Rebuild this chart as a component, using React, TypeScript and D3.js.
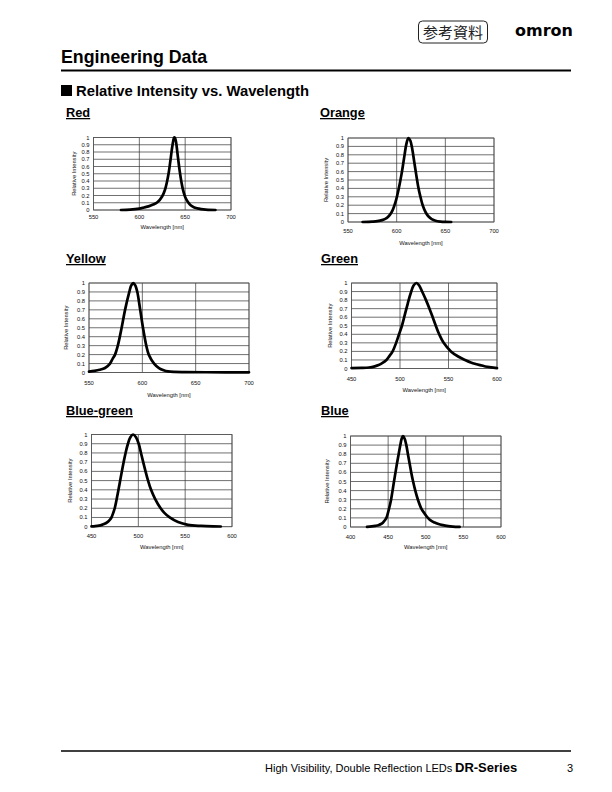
import React from "react";
import * as d3 from "d3";

// ---------- DATA ----------
const yTicks = [0, 0.1, 0.2, 0.3, 0.4, 0.5, 0.6, 0.7, 0.8, 0.9, 1];
const yTickLabels = ["0", "0.1", "0.2", "0.3", "0.4", "0.5", "0.6", "0.7", "0.8", "0.9", "1"];
const xTicks550 = [550, 600, 650, 700];
const xTicks450 = [450, 500, 550, 600];
const xTicks400 = [400, 450, 500, 550, 600];

const redNm = [580, 590, 600, 605, 610, 615, 620, 625, 628, 630, 632, 634, 636, 638, 639, 640, 642, 644, 646, 648, 650, 653, 656, 660, 665, 670, 675, 683];
const redRel = [0, 0.005, 0.02, 0.035, 0.05, 0.075, 0.11, 0.19, 0.28, 0.38, 0.51, 0.69, 0.88, 1.0, 0.99, 0.94, 0.74, 0.54, 0.38, 0.26, 0.18, 0.11, 0.065, 0.035, 0.018, 0.008, 0.003, 0];

const orangeNm = [565, 575, 580, 585, 590, 593, 596, 599, 602, 605, 608, 610, 612, 614, 616, 618, 620, 622, 624, 627, 630, 633, 636, 640, 645, 650, 656];
const orangeRel = [0, 0.005, 0.01, 0.022, 0.05, 0.085, 0.145, 0.245, 0.39, 0.57, 0.79, 0.93, 1.0, 0.97, 0.87, 0.72, 0.57, 0.43, 0.32, 0.19, 0.11, 0.062, 0.035, 0.015, 0.005, 0.001, 0];

const yellowNm = [550, 555, 560, 565, 569.7, 572, 574.4, 577, 580.6, 583.8, 587.8, 589.5, 591.5, 593.5, 595.3, 598, 600.6, 603.7, 606, 611, 615.6, 620, 624, 630, 640, 660, 700];
const yellowRel = [0.01, 0.018, 0.03, 0.05, 0.1, 0.15, 0.2, 0.3, 0.5, 0.7, 0.9, 0.97, 1.0, 0.97, 0.9, 0.7, 0.5, 0.3, 0.2, 0.1, 0.05, 0.025, 0.012, 0.006, 0.004, 0.003, 0.002];

const greenNm = [450, 460, 468, 474, 478, 482, 486, 489, 492.4, 496, 499, 502, 505, 508, 511, 514, 517, 519.8, 522.8, 526.8, 530.4, 533.7, 536.9, 540.4, 545, 552.5, 560, 567, 573, 579, 590, 600];
const greenRel = [0.005, 0.007, 0.012, 0.025, 0.04, 0.065, 0.1, 0.145, 0.2, 0.3, 0.4, 0.5, 0.63, 0.76, 0.88, 0.97, 1.0, 0.97, 0.9, 0.8, 0.7, 0.6, 0.5, 0.4, 0.3, 0.2, 0.14, 0.1, 0.07, 0.05, 0.02, 0.005];

const blueGreenNm = [450, 454, 458, 461, 464, 467, 469.5, 471.3, 473.2, 474.8, 476.9, 478.8, 480.6, 482.4, 484.3, 486.4, 488.9, 491.5, 494.4, 497.5, 500.4, 502.8, 505.2, 507.7, 510.4, 513.6, 518, 523.8, 527.8, 533.5, 542.4, 553, 567, 580, 588];
const blueGreenRel = [0.003, 0.006, 0.012, 0.02, 0.032, 0.05, 0.075, 0.1, 0.15, 0.2, 0.3, 0.4, 0.5, 0.6, 0.7, 0.8, 0.9, 0.97, 1.0, 0.97, 0.9, 0.8, 0.7, 0.6, 0.5, 0.4, 0.3, 0.2, 0.15, 0.1, 0.05, 0.02, 0.008, 0.003, 0.002];

const blueNm = [422, 428, 433, 437, 440.5, 443.3, 445.7, 447.7, 449.6, 451.2, 453.9, 455.9, 457.8, 459.8, 461.8, 464, 466.2, 468, 469.8, 472, 474.2, 476.3, 478.5, 480.7, 483.2, 486.1, 489.6, 494.3, 498.3, 502.9, 507, 511.7, 516, 522.7, 530, 536, 545];
const blueRel = [0.002, 0.007, 0.013, 0.02, 0.033, 0.05, 0.075, 0.1, 0.15, 0.2, 0.3, 0.4, 0.5, 0.6, 0.7, 0.8, 0.9, 0.97, 1.0, 0.97, 0.9, 0.8, 0.7, 0.6, 0.5, 0.4, 0.3, 0.2, 0.15, 0.1, 0.07, 0.05, 0.035, 0.02, 0.01, 0.005, 0.001];

// ---------- LAYOUT ----------
type ChartCfg = {
  title: string; tx: number; ty: number;
  left: number; right: number; top: number; bottom: number;
  domain: [number, number]; ticks: number[];
  nm: number[]; rel: number[];
  tickOff: number; titleOff: number; yTitleOff: number;
};

const charts: ChartCfg[] = [
  { title: "Red", tx: 66, ty: 117, left: 93.5, right: 231, top: 137.5, bottom: 210, domain: [550, 700], ticks: xTicks550, nm: redNm, rel: redRel, tickOff: 9, titleOff: 19, yTitleOff: 18 },
  { title: "Orange", tx: 320, ty: 117, left: 348, right: 494, top: 138, bottom: 222, domain: [550, 700], ticks: xTicks550, nm: orangeNm, rel: orangeRel, tickOff: 11, titleOff: 23, yTitleOff: 20 },
  { title: "Yellow", tx: 66, ty: 263, left: 89, right: 249, top: 283, bottom: 372.5, domain: [550, 700], ticks: xTicks550, nm: yellowNm, rel: yellowRel, tickOff: 12, titleOff: 24, yTitleOff: 21 },
  { title: "Green", tx: 321, ty: 263, left: 351.5, right: 497, top: 283, bottom: 368.5, domain: [450, 600], ticks: xTicks450, nm: greenNm, rel: greenRel, tickOff: 12, titleOff: 23, yTitleOff: 20 },
  { title: "Blue-green", tx: 66, ty: 415, left: 91.5, right: 232, top: 434.5, bottom: 526.7, domain: [450, 600], ticks: xTicks450, nm: blueGreenNm, rel: blueGreenRel, tickOff: 11, titleOff: 22, yTitleOff: 20 },
  { title: "Blue", tx: 321, ty: 415, left: 350.5, right: 501, top: 436, bottom: 527, domain: [400, 600], ticks: xTicks400, nm: blueNm, rel: blueRel, tickOff: 12, titleOff: 22, yTitleOff: 22 },
];

const FONT = "'Liberation Sans', Arial, Helvetica, sans-serif";

function Chart({ c }: { c: ChartCfg }) {
  const x = d3.scaleLinear().domain(c.domain).range([c.left, c.right]);
  const y = d3.scaleLinear().domain([0, 1]).range([c.bottom, c.top]);
  const pts = c.nm.map((n, i) => [n, c.rel[i]] as [number, number]);
  const line = d3
    .line<[number, number]>()
    .x((d) => x(d[0]))
    .y((d) => y(d[1]))
    .curve(d3.curveCatmullRom.alpha(0.5));
  return (
    <g>
      <text x={c.tx} y={c.ty} fontFamily={FONT} fontWeight="bold" fontSize={12.8} fill="#000" textDecoration="underline">
        {c.title}
      </text>
      {yTicks.map((t) => (
        <line key={"h" + t} x1={c.left} x2={c.right} y1={y(t)} y2={y(t)} stroke="#333" strokeWidth={0.7} />
      ))}
      {c.ticks.map((t) => (
        <line key={"v" + t} x1={x(t)} x2={x(t)} y1={c.top} y2={c.bottom} stroke="#333" strokeWidth={0.7} />
      ))}
      <rect x={c.left} y={c.top} width={c.right - c.left} height={c.bottom - c.top} fill="none" stroke="#555" strokeWidth={0.7} />
      {yTicks.map((t, i) => (
        <text key={"yl" + t} x={c.left - 4} y={y(t) + 2} textAnchor="end" fontFamily={FONT} fontSize={5.8} fill="#111">
          {yTickLabels[i]}
        </text>
      ))}
      {c.ticks.map((t) => (
        <text key={"xl" + t} x={x(t)} y={c.bottom + c.tickOff} textAnchor="middle" fontFamily={FONT} fontSize={5.8} fill="#111">
          {t}
        </text>
      ))}
      <text x={(c.left + c.right) / 2} y={c.bottom + c.titleOff} textAnchor="middle" fontFamily={FONT} fontSize={5.8} fill="#111">
        Wavelength [nm]
      </text>
      <text
        transform={`translate(${c.left - c.yTitleOff},${(c.top + c.bottom) / 2}) rotate(-90)`}
        textAnchor="middle"
        fontFamily={FONT}
        fontSize={5.8}
        fill="#111"
      >
        Relative Intensity
      </text>
      <path d={line(pts) || ""} fill="none" stroke="#000" strokeWidth={2.7} strokeLinejoin="round" strokeLinecap="round" />
    </g>
  );
}

export default function App() {
  return (
    <svg width={612} height={792} viewBox="0 0 612 792" style={{ position: "absolute", left: 0, top: 0, background: "#fff" }}>
      <rect x={0} y={0} width={612} height={792} fill="#fff" />
      {/* header */}
      <rect x={418.5} y={21} width={69} height={22} rx={4} ry={4} fill="none" stroke="#222" strokeWidth={1} />
      <text x={453} y={38} textAnchor="middle" fontFamily="'Noto Sans CJK JP', sans-serif" fontSize={15} fill="#222">
        参考資料
      </text>
      <text x={515} y={36} fontFamily="'DejaVu Sans', sans-serif" fontWeight="bold" fontSize={15} textLength={58} lengthAdjust="spacingAndGlyphs" fill="#000">
        omron
      </text>
      <text x={61} y={63} fontFamily={FONT} fontWeight="bold" fontSize={17.8} fill="#000">
        Engineering Data
      </text>
      <line x1={61} x2={571} y1={70.5} y2={70.5} stroke="#000" strokeWidth={2} />
      <rect x={61} y={85} width={11} height={11} fill="#000" />
      <text x={76} y={96} fontFamily={FONT} fontWeight="bold" fontSize={14.8} fill="#000">
        Relative Intensity vs. Wavelength
      </text>
      {charts.map((c) => (
        <Chart key={c.title} c={c} />
      ))}
      {/* footer */}
      <line x1={61} x2={571} y1={751} y2={751} stroke="#000" strokeWidth={1.6} />
      <text x={265} y={772} fontFamily={FONT} fontSize={11} fill="#000">
        High Visibility, Double Reflection LEDs
      </text>
      <text x={455} y={772} fontFamily={FONT} fontWeight="bold" fontSize={13} fill="#000">
        DR-Series
      </text>
      <text x={567} y={772} fontFamily={FONT} fontSize={11} fill="#000">
        3
      </text>
    </svg>
  );
}
